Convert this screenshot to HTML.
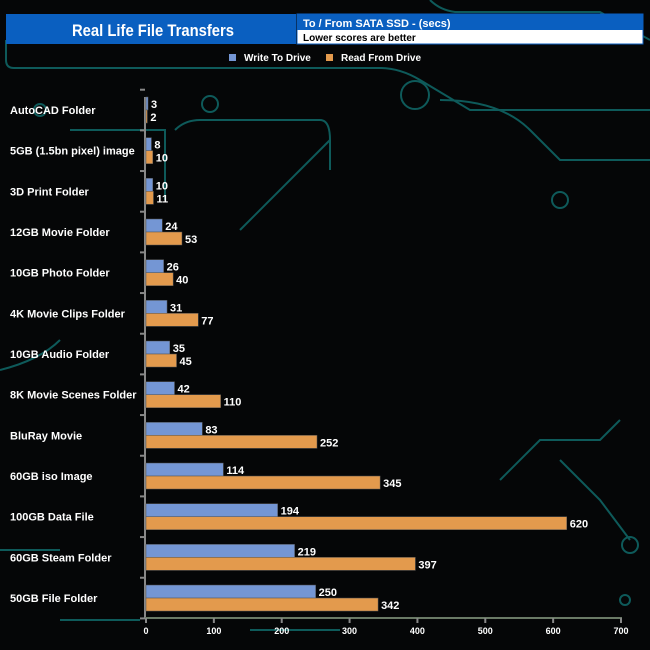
<!DOCTYPE html>
<html><head><meta charset="utf-8"><style>
body{margin:0;background:#050607;}
svg{display:block;font-family:"Liberation Sans",Arial,sans-serif;font-weight:bold;}
</style></head><body>
<svg width="650" height="650" viewBox="0 0 650 650">
<rect width="650" height="650" fill="#050607"/>
<g stroke="#0e5a5a" stroke-width="2" fill="none">
<path d="M6 40 V60 Q6 68 14 68 H380 Q400 68 420 80 L470 110 H650"/>
<path d="M430 0 Q440 10 455 12 H600 L650 40"/>
<path d="M70 130 H165 V200"/>
<path d="M175 130 Q185 120 200 120 H320 Q330 120 330 140 V170"/>
<path d="M240 230 L330 140"/>
<path d="M0 370 Q40 360 60 340"/>
<path d="M440 100 Q500 100 530 130 L560 160 H650"/>
<path d="M0 550 H60 M140 620 H60 M250 630 H340"/>
<path d="M500 480 L540 440 H600 L620 420"/>
<path d="M560 460 Q580 480 600 500 L630 540"/>
<circle cx="210" cy="104" r="8"/><circle cx="415" cy="95" r="14"/><circle cx="560" cy="200" r="8"/>
<circle cx="630" cy="545" r="8"/><circle cx="625" cy="600" r="5"/><circle cx="40" cy="110" r="6"/>
</g>
<rect x="6" y="14" width="290" height="30" fill="#0a5fc0"/>
<text x="72" y="36" textLength="162" lengthAdjust="spacingAndGlyphs" fill="#fff" font-size="17">Real Life File Transfers</text>
<rect x="297" y="14" width="346" height="30" fill="#fff" stroke="#0a5fc0"/>
<rect x="297" y="14" width="346" height="16" fill="#0a5fc0"/>
<text x="303" y="27" fill="#fff" font-size="11">To /  From SATA SSD - (secs)</text>
<text x="303" y="41" fill="#000" font-size="10">Lower scores are better</text>
<g font-size="10" fill="#fff">
<rect x="229" y="54" width="7" height="7" fill="#7496d4"/>
<text x="244" y="61">Write To  Drive</text>
<rect x="326" y="54" width="7" height="7" fill="#e39a4d"/>
<text x="341" y="61">Read From  Drive</text>
</g>
<g id="plot"></g>
</svg>
<script>
const categories=["AutoCAD Folder","5GB (1.5bn pixel) image","3D Print Folder","12GB Movie Folder","10GB Photo Folder","4K Movie Clips Folder","10GB Audio Folder","8K Movie Scenes Folder","BluRay Movie","60GB iso Image","100GB Data File","60GB Steam Folder","50GB File Folder"];
const writeValues=[3,8,10,24,26,31,35,42,83,114,194,219,250];
const readValues=[2,10,11,53,40,77,45,110,252,345,620,397,342];
const xTicks=[0,100,200,300,400,500,600,700];
const NS="http://www.w3.org/2000/svg";
const g=document.getElementById('plot');
const x=v=>146+v*(475/700);
const yc=i=>110+i*40.67;
function mk(t,a){const e=document.createElementNS(NS,t);for(const k in a)e.setAttribute(k,a[k]);g.appendChild(e);return e;}
let ax=mk('line',{x1:145,y1:97,x2:145,y2:618,stroke:'#888','stroke-width':2});


let bx=mk('line',{x1:145,y1:618,x2:622,y2:618,stroke:'#6a7a66','stroke-width':2});


for(let i=0;i<=categories.length;i++){let ty=yc(i)-20.3;let t=mk('line',{x1:140,y1:ty,x2:145,y2:ty,stroke:'#888','stroke-width':2});

}
xTicks.forEach(v=>{let t=mk('line',{x1:x(v),y1:618,x2:x(v),y2:623,stroke:'#888','stroke-width':2});


let l=mk('text',{x:x(v),y:634,'text-anchor':'middle',fill:'#fff','font-size':9});l.textContent=v;

});
categories.forEach((c,i)=>{const y=yc(i);
let l=mk('text',{x:10,y:y+4,fill:'#fff','font-size':11});l.textContent=c;


let w=mk('rect',{x:146,y:y-13,width:Math.max(1,x(writeValues[i])-146),height:13,fill:'#7496d4',stroke:'#555','stroke-width':0.5});


let r=mk('rect',{x:146,y:y,width:Math.max(1,x(readValues[i])-146),height:13,fill:'#e39a4d',stroke:'#555','stroke-width':0.5});


let wl=mk('text',{x:x(writeValues[i])+3,y:y-2,fill:'#fff','font-size':11});wl.textContent=writeValues[i];


let rl=mk('text',{x:x(readValues[i])+3,y:y+11,fill:'#fff','font-size':11});rl.textContent=readValues[i];


});
</script>
</body></html>
